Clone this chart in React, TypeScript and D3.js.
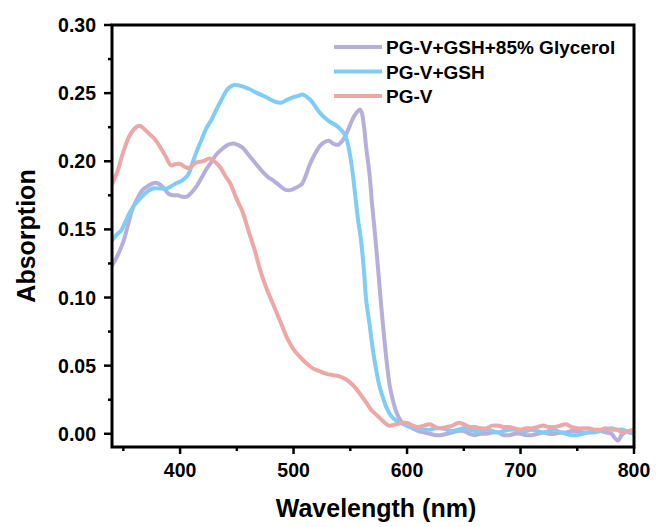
import React from "react";
import * as d3 from "d3";

const seriesNames = ["PG-V+GSH+85% Glycerol", "PG-V+GSH", "PG-V"];
const seriesColors = ["#b6aedb", "#7fcdf6", "#eea7a7"];

const xTicks = [400, 500, 600, 700, 800];
const xMinor = [350, 450, 550, 650, 750];
const yTicks = [0.0, 0.05, 0.1, 0.15, 0.2, 0.25, 0.3];
const yMinor = [0.025, 0.075, 0.125, 0.175, 0.225, 0.275];

// PG-V+GSH+85% Glycerol
const glyWl = [340, 345, 350, 354, 358, 362, 367, 372, 377, 380, 385, 390, 394, 398, 402, 406, 410, 414, 419, 423, 428, 432, 437, 442, 447, 451, 455, 461, 467, 473, 478, 482, 488, 493, 498, 503, 507, 511, 514, 518, 523, 527, 531, 535, 539, 543, 547, 551, 554, 557, 558.5, 560, 562, 564, 567, 569, 571, 573, 575, 577, 579, 581, 583, 585, 588, 591, 594, 597, 600, 605, 610, 615, 620, 625, 630, 635, 640, 645, 650, 655, 660, 665, 670, 675, 680, 685, 690, 695, 700, 705, 710, 715, 720, 725, 730, 735, 740, 745, 750, 755, 760, 765, 770, 775, 780, 783, 786, 789, 792, 796, 800];
const glyAbs = [0.1235, 0.131, 0.141, 0.153, 0.165, 0.172, 0.179, 0.182, 0.184, 0.184, 0.181, 0.176, 0.175, 0.175, 0.174, 0.174, 0.177, 0.181, 0.188, 0.194, 0.2, 0.205, 0.209, 0.212, 0.213, 0.212, 0.21, 0.204, 0.198, 0.192, 0.188, 0.186, 0.182, 0.179, 0.179, 0.181, 0.183, 0.19, 0.197, 0.204, 0.211, 0.214, 0.215, 0.213, 0.212, 0.215, 0.221, 0.229, 0.234, 0.237, 0.238, 0.236, 0.226, 0.21, 0.19, 0.17, 0.153, 0.135, 0.116, 0.096, 0.078, 0.061, 0.046, 0.034, 0.023, 0.015, 0.01, 0.007, 0.006, 0.004, 0.002, 0.001, 0.0, -0.001, -0.001, 0.0, 0.001, 0.002, 0.002, 0.0, -0.001, 0.0, 0.0, 0.001, 0.001, -0.001, -0.001, 0.0, 0.0, -0.001, -0.001, 0.0, 0.001, 0.0, 0.0, 0.001, 0.001, 0.002, 0.002, 0.001, 0.001, 0.002, 0.002, 0.001, 0.0, -0.003, -0.005, -0.001, 0.001, 0.002, 0.002];

// PG-V+GSH
const gshWl = [340, 344, 348, 352, 356, 360, 364, 370, 376, 382, 388, 393, 397, 402, 407, 411, 415, 419, 423, 428, 432, 437, 441, 445, 448, 455, 461, 468, 476, 483, 489, 494, 500, 504, 508, 512, 516, 521, 526, 532, 538, 543, 546, 549, 551, 553, 555, 557, 559.6, 562, 564, 567, 570, 573, 576, 579, 582, 586, 590, 595, 600, 605, 610, 615, 620, 625, 630, 635, 640, 645, 650, 655, 660, 665, 670, 675, 680, 685, 690, 695, 700, 705, 710, 715, 720, 725, 730, 735, 740, 745, 750, 755, 760, 765, 770, 775, 780, 785, 790, 795, 800];
const gshAbs = [0.142, 0.146, 0.149, 0.156, 0.163, 0.168, 0.172, 0.177, 0.18, 0.18, 0.18, 0.182, 0.184, 0.186, 0.19, 0.199, 0.208, 0.216, 0.224, 0.231, 0.238, 0.246, 0.252, 0.255, 0.256, 0.255, 0.253, 0.25, 0.247, 0.244, 0.243, 0.245, 0.247, 0.248, 0.249, 0.247, 0.244, 0.238, 0.233, 0.229, 0.226, 0.222, 0.218, 0.208, 0.198, 0.185, 0.17, 0.156, 0.1406, 0.12, 0.098, 0.08, 0.061, 0.046, 0.034, 0.026, 0.019, 0.013, 0.01, 0.008, 0.006, 0.005, 0.004, 0.003, 0.003, 0.004, 0.004, 0.003, 0.002, 0.003, 0.004, 0.003, 0.002, 0.002, 0.003, 0.002, 0.001, 0.002, 0.003, 0.003, 0.002, 0.002, 0.003, 0.002, 0.001, 0.002, 0.003, 0.001, 0.0, -0.001, -0.001, 0.0, 0.001, 0.001, 0.002, 0.003, 0.004, 0.003, 0.003, 0.001, 0.0];

// PG-V
const pgvWl = [340, 345, 350, 355, 360, 364, 368, 373, 378, 382, 387, 392, 396, 400, 404, 408, 414, 420, 426, 430, 435, 440, 444, 450, 455, 461, 466, 471, 476, 482, 488, 494, 500, 505, 511, 517, 523, 529, 535, 541, 546, 552, 558, 564, 569, 573, 578, 584, 590, 596, 600, 605, 610, 615, 620, 625, 630, 635, 640, 645, 650, 655, 660, 665, 670, 675, 680, 685, 690, 695, 700, 705, 710, 715, 720, 725, 730, 735, 740, 745, 750, 755, 760, 765, 770, 775, 780, 785, 790, 795, 800];
const pgvAbs = [0.183, 0.193, 0.207, 0.218, 0.224, 0.226, 0.224, 0.22, 0.216, 0.211, 0.204, 0.197, 0.198, 0.198, 0.196, 0.195, 0.199, 0.2, 0.202, 0.2, 0.196, 0.189, 0.184, 0.172, 0.163, 0.147, 0.134, 0.119, 0.107, 0.095, 0.083, 0.071, 0.062, 0.057, 0.052, 0.048, 0.046, 0.044, 0.043, 0.042, 0.04, 0.036, 0.03, 0.023, 0.017, 0.014, 0.01, 0.006, 0.007, 0.008, 0.008, 0.006, 0.005, 0.006, 0.007, 0.005, 0.004, 0.005, 0.006, 0.008, 0.007, 0.005, 0.005, 0.004, 0.004, 0.006, 0.006, 0.005, 0.005, 0.004, 0.003, 0.004, 0.004, 0.005, 0.006, 0.005, 0.005, 0.006, 0.007, 0.005, 0.004, 0.004, 0.004, 0.003, 0.003, 0.004, 0.003, 0.003, 0.001, 0.002, 0.003];

const seriesWl = [glyWl, gshWl, pgvWl];
const seriesAbs = [glyAbs, gshAbs, pgvAbs];

const W = 656;
const H = 527;
const left = 112;
const right = 634;
const top = 25;
const bottom = 447;
const FONT = "'Liberation Sans', Arial, Helvetica, sans-serif";

export default function App() {
  const x = d3.scaleLinear().domain([340, 800]).range([left, right]);
  const y = d3.scaleLinear().domain([-0.0097, 0.3]).range([bottom, top]);
  const line = d3
    .line<[number, number]>()
    .x((d) => x(d[0]))
    .y((d) => y(d[1]))
    .curve(d3.curveCatmullRom.alpha(0.5));

  const fmtY = d3.format(".2f");

  return (
    <svg
      width={W}
      height={H}
      style={{ position: "absolute", left: 0, top: 0, background: "#fff" }}
      fontFamily={FONT}
      fontWeight="bold"
    >
      <defs>
        <clipPath id="plotclip">
          <rect x={left} y={top} width={right - left} height={bottom - top} />
        </clipPath>
      </defs>
      <rect x={0} y={0} width={W} height={H} fill="#fff" />

      <g clipPath="url(#plotclip)">
        {seriesWl.map((wl, i) => {
          const pts = wl.map((w, j) => [w, seriesAbs[i][j]] as [number, number]);
          return (
            <path
              key={i}
              d={line(pts) || ""}
              fill="none"
              stroke={seriesColors[i]}
              strokeWidth={4}
              strokeLinejoin="round"
              strokeLinecap="round"
            />
          );
        })}
      </g>

      {/* frame */}
      <rect
        x={left}
        y={top}
        width={right - left}
        height={bottom - top}
        fill="none"
        stroke="#000"
        strokeWidth={3}
      />

      {/* x ticks */}
      {xTicks.map((t) => (
        <g key={"xt" + t}>
          <line x1={x(t)} x2={x(t)} y1={bottom} y2={bottom + 7} stroke="#000" strokeWidth={2.5} />
          <text x={x(t)} y={477} textAnchor="middle" fontSize={19.5} fill="#000">
            {t}
          </text>
        </g>
      ))}
      {xMinor.map((t) => (
        <line key={"xm" + t} x1={x(t)} x2={x(t)} y1={bottom} y2={bottom + 4} stroke="#000" strokeWidth={2.5} />
      ))}

      {/* y ticks */}
      {yTicks.map((t) => (
        <g key={"yt" + t}>
          <line x1={left - 8} x2={left} y1={y(t)} y2={y(t)} stroke="#000" strokeWidth={2.5} />
          <text x={96} y={y(t) + 7} textAnchor="end" fontSize={19.5} fill="#000">
            {fmtY(t)}
          </text>
        </g>
      ))}
      {yMinor.map((t) => (
        <line key={"ym" + t} x1={left - 4} x2={left} y1={y(t)} y2={y(t)} stroke="#000" strokeWidth={2.5} />
      ))}

      {/* axis titles */}
      <text x={(left + right) / 2 + 3} y={517} textAnchor="middle" fontSize={25} fill="#000">
        Wavelength (nm)
      </text>
      <text
        transform={`translate(35, ${(top + bottom) / 2}) rotate(-90)`}
        textAnchor="middle"
        fontSize={25}
        fill="#000"
      >
        Absorption
      </text>

      {/* legend */}
      {seriesNames.map((name, i) => {
        const ly = 47 + i * 24.5;
        return (
          <g key={name}>
            <line x1={334} x2={382} y1={ly} y2={ly} stroke={seriesColors[i]} strokeWidth={4} />
            <text x={386} y={ly + 7} fontSize={19} fill="#000">
              {name}
            </text>
          </g>
        );
      })}
    </svg>
  );
}
